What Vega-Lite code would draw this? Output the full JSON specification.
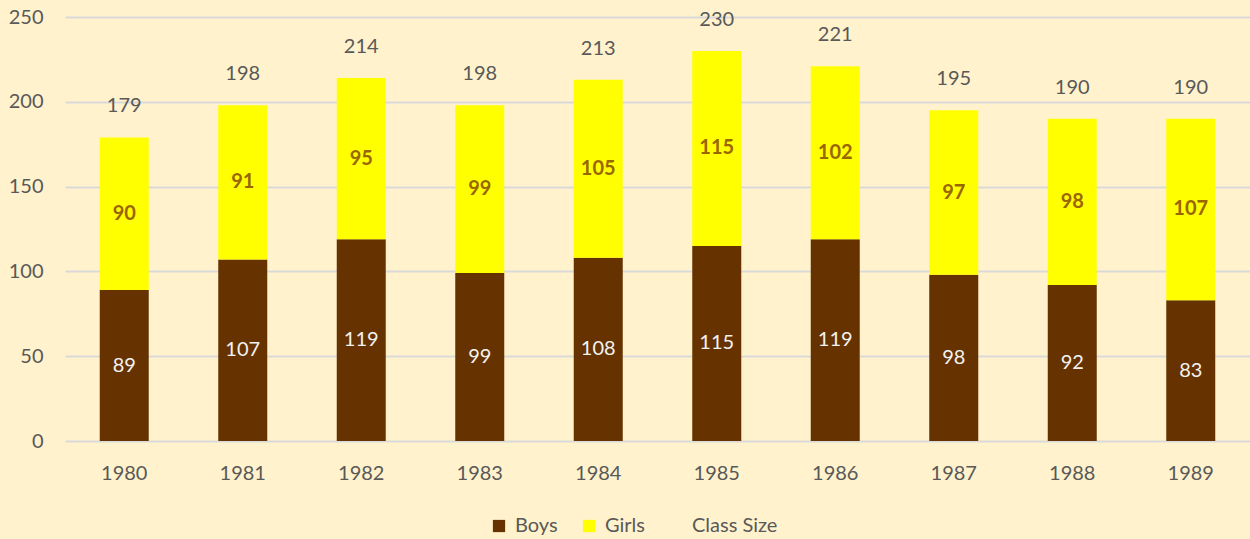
{
  "$schema": "https://vega.github.io/schema/vega-lite/v6.json",
  "autosize": "none",
  "width": 1185,
  "height": 424,
  "padding": {"left": 65, "top": 17, "right": 0, "bottom": 98},
  "background": "#FFF2CC",
  "config": {
    "view": {"stroke": null},
    "font": "Lato",
    "axis": {"labelFont": "Lato", "labelFontSize": 20, "labelColor": "#595959", "ticks": false, "domain": false, "gridColor": "#D9D9D9", "gridWidth": 2},
    "legend": {"labelFont": "Lato", "labelFontSize": 20, "labelColor": "#595959"}
  },
  "data": {
    "values": [
      {"year": "1980", "gender": "Boys", "count": 89},
      {"year": "1980", "gender": "Girls", "count": 90},
      {"year": "1981", "gender": "Boys", "count": 107},
      {"year": "1981", "gender": "Girls", "count": 91},
      {"year": "1982", "gender": "Boys", "count": 119},
      {"year": "1982", "gender": "Girls", "count": 95},
      {"year": "1983", "gender": "Boys", "count": 99},
      {"year": "1983", "gender": "Girls", "count": 99},
      {"year": "1984", "gender": "Boys", "count": 108},
      {"year": "1984", "gender": "Girls", "count": 105},
      {"year": "1985", "gender": "Boys", "count": 115},
      {"year": "1985", "gender": "Girls", "count": 115},
      {"year": "1986", "gender": "Boys", "count": 119},
      {"year": "1986", "gender": "Girls", "count": 102},
      {"year": "1987", "gender": "Boys", "count": 98},
      {"year": "1987", "gender": "Girls", "count": 97},
      {"year": "1988", "gender": "Boys", "count": 92},
      {"year": "1988", "gender": "Girls", "count": 98},
      {"year": "1989", "gender": "Boys", "count": 83},
      {"year": "1989", "gender": "Girls", "count": 107}
    ]
  },
  "encoding": {
    "x": {"field": "year", "type": "nominal", "title": null, "scale": {"paddingInner": 0, "paddingOuter": 0},
      "axis": {"labelAngle": 0, "labelPadding": 22, "grid": false}}
  },
  "layer": [
    {
      "mark": {"type": "bar", "size": 49},
      "encoding": {
        "y": {"field": "count", "type": "quantitative", "aggregate": "sum", "title": null,
          "scale": {"domain": [0, 250], "nice": false},
          "axis": {"values": [0, 50, 100, 150, 200, 250], "labelPadding": 22, "grid": true}},
        "color": {"field": "gender", "type": "nominal", "title": null,
          "scale": {"domain": ["Boys", "Girls", "Class Size"], "range": ["#663300", "#FFFF00", "transparent"]},
          "legend": {"orient": "none", "direction": "horizontal", "legendX": 424, "legendY": 499, "symbolType": "square", "symbolSize": 150, "symbolStrokeWidth": 0, "columnPadding": 21, "labelOffset": 6}},
        "order": {"field": "gender", "sort": "ascending"}
      }
    },
    {
      "transform": [
        {"stack": "count", "groupby": ["year"], "sort": [{"field": "gender", "order": "ascending"}], "as": ["y0", "y1"]},
        {"filter": "datum.gender == 'Boys'"},
        {"fold": ["y0", "y1"], "as": ["edge", "pos"]}
      ],
      "mark": {"type": "text", "fontSize": 20, "color": "#F2F2F2", "baseline": "middle"},
      "encoding": {
        "y": {"field": "pos", "type": "quantitative", "aggregate": "mean", "scale": {"domain": [0, 250], "nice": false}},
        "text": {"field": "count", "type": "quantitative", "aggregate": "max"}
      }
    },
    {
      "transform": [
        {"stack": "count", "groupby": ["year"], "sort": [{"field": "gender", "order": "ascending"}], "as": ["y0", "y1"]},
        {"filter": "datum.gender == 'Girls'"},
        {"fold": ["y0", "y1"], "as": ["edge", "pos"]}
      ],
      "mark": {"type": "text", "fontSize": 20, "fontWeight": "bold", "color": "#996600", "baseline": "middle"},
      "encoding": {
        "y": {"field": "pos", "type": "quantitative", "aggregate": "mean", "scale": {"domain": [0, 250], "nice": false}},
        "text": {"field": "count", "type": "quantitative", "aggregate": "max"}
      }
    },
    {
      "mark": {"type": "text", "fontSize": 20, "color": "#595959", "baseline": "middle", "dy": -31},
      "encoding": {
        "y": {"field": "count", "type": "quantitative", "aggregate": "sum", "scale": {"domain": [0, 250], "nice": false}},
        "text": {"field": "count", "type": "quantitative", "aggregate": "sum"}
      }
    }
  ]
}
